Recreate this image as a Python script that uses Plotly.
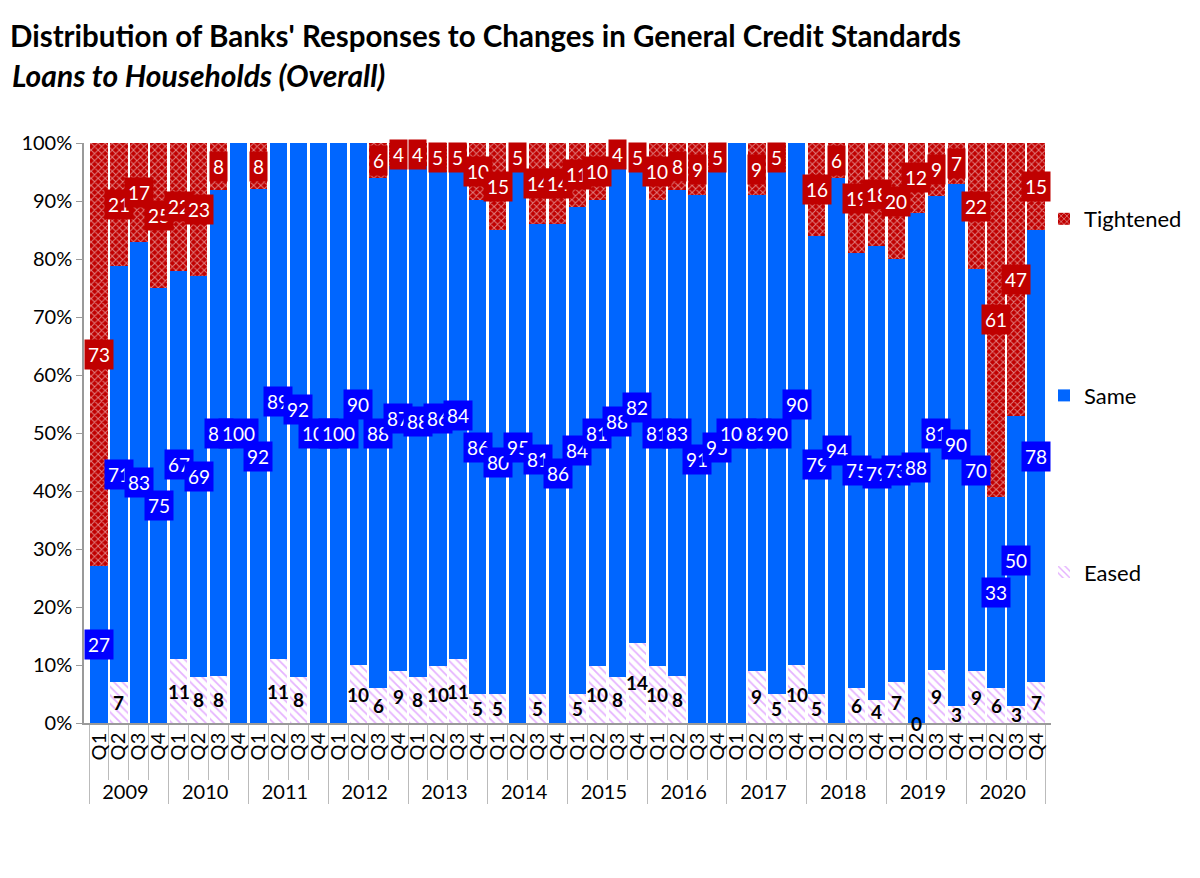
import plotly.graph_objects as go

years = ["2009", "2010", "2011", "2012", "2013", "2014", "2015", "2016",
         "2017", "2018", "2019", "2020"]
quarters = ["Q1", "Q2", "Q3", "Q4"]
y_ticks = list(range(0, 101, 10))
y_tick_labels = [f"{v}%" for v in y_ticks]

# None = no data label shown
eased = [None, 7, None, None,
         11, 8, 8, None,
         None, 11, 8, None,
         None, 10, 6, 9,
         8, 10, 11, 5,
         5, None, 5, None,
         5, 10, 8, 14,
         10, 8, None, None,
         None, 9, 5, 10,
         5, None, 6, 4,
         7, 0, 9, 3,
         9, 6, 3, 7]
same = [27, 71, 83, 75,
        67, 69, 83, 100,
        92, 89, 92, 100,
        100, 90, 88, 87,
        88, 86, 84, 86,
        80, 95, 81, 86,
        84, 81, 88, 82,
        81, 83, 91, 95,
        100, 82, 90, 90,
        79, 94, 75, 79,
        73, 88, 81, 90,
        70, 33, 50, 78]
tightened = [73, 21, 17, 25,
             22, 23, 8, None,
             8, None, None, None,
             None, None, 6, 4,
             4, 5, 5, 10,
             15, 5, 14, 14,
             11, 10, 4, 5,
             10, 8, 9, 5,
             None, 9, 5, None,
             16, 6, 19, 18,
             20, 12, 9, 7,
             22, 61, 47, 15]

FONT = "Lato"
n = len(same)
xy = [[y for y in years for _ in quarters], [q for _ in years for q in quarters]]
ev = [v or 0 for v in eased]
sv = [v or 0 for v in same]
tv = [v or 0 for v in tightened]

fig = go.Figure()
fig.add_trace(go.Bar(
    x=xy, y=ev, name="Eased", legendgroup="e", legendrank=3,
    marker=dict(color="white", line=dict(width=0),
                pattern=dict(shape="\\", fgcolor="#CC66FF", bgcolor="white",
                             size=6, solidity=0.3)),
))
fig.add_trace(go.Bar(
    x=xy, y=sv, name="Same", legendgroup="s", legendrank=2,
    marker=dict(color="#0066FF", line=dict(width=0)),
))
fig.add_trace(go.Bar(
    x=xy, y=tv, name="Tightened", legendgroup="t", legendrank=1,
    marker=dict(color="#C00000", line=dict(width=0),
                pattern=dict(shape="x", fgcolor="white", bgcolor="#C00000",
                             size=5, solidity=0.35)),
))

annotations = []
for i in range(n):
    tot = ev[i] + sv[i] + tv[i]
    e_mid = ev[i] / 2 / tot * 100
    s_mid = (ev[i] + sv[i] / 2) / tot * 100
    t_mid = (ev[i] + sv[i] + tv[i] / 2) / tot * 100
    if eased[i] is not None:
        annotations.append(dict(x=i, y=e_mid, xref="x", yref="y", text=f"<b>{eased[i]}</b>",
                                showarrow=False, font=dict(family=FONT, size=19, color="black")))
    annotations.append(dict(x=i, y=s_mid, xref="x", yref="y", text=str(same[i]),
                            showarrow=False, bgcolor="#0000FF", borderpad=3,
                            font=dict(family=FONT, size=19, color="white")))
    if tightened[i] is not None:
        annotations.append(dict(x=i, y=t_mid, xref="x", yref="y", text=str(tightened[i]),
                                showarrow=False, bgcolor="#C00000", borderpad=3,
                                font=dict(family=FONT, size=19, color="white")))

# page body has an 8px margin; figure coordinates are page coordinates minus 8
OFF = 8
W, H = 1184, 862
ml, mt = 84 - OFF, 143 - OFF
mr = W - (1051 - OFF)
mb = H - (723 - OFF)
pw, ph = W - ml - mr, H - mt - mb


def px_x(x):
    return (x - OFF - ml) / pw


def px_y(y):
    return (H - mb - (y - OFF)) / ph


annotations.append(dict(x=px_x(10), y=px_y(75), xref="paper", yref="paper",
                        xanchor="left", yanchor="middle",
                        text="<b><i>Loans to Households (Overall)</i></b>", showarrow=False,
                        font=dict(family=FONT, size=30, color="black")))

fig.update_layout(
    width=W, height=H,
    margin=dict(l=ml, r=mr, t=mt, b=mb, autoexpand=False),
    barmode="stack", barnorm="percent", bargap=0.13,
    plot_bgcolor="white", paper_bgcolor="white",
    font=dict(family=FONT, size=18, color="black"),
    title=dict(text="<b>Distribution of Banks' Responses to Changes in General Credit Standards</b>",
               x=(10 - OFF) / W, xanchor="left", xref="container",
               y=1 - (37 - OFF) / H, yanchor="middle",
               yref="container", font=dict(family=FONT, size=29.5, color="black")),
    yaxis=dict(range=[0, 100], tickmode="array", tickvals=y_ticks, ticktext=y_tick_labels,
               showgrid=False, showline=True, linecolor="#9A9A9A", linewidth=1.5,
               ticks="outside", ticklen=6, tickcolor="#9A9A9A", zeroline=False,
               tickfont=dict(family=FONT, size=20)),
    xaxis=dict(type="multicategory", showgrid=False, showline=True, linecolor="#9A9A9A",
               linewidth=1.5, ticks="outside", tickson="boundaries", ticklen=55,
               tickcolor="#BBBBBB", showdividers=True, dividercolor="#BBBBBB", dividerwidth=1,
               tickangle=-90, dtick=1, tickfont=dict(family=FONT, size=20)),
    legend=dict(x=px_x(1044), y=px_y(198), xanchor="left", yanchor="top",
                traceorder="grouped", tracegroupgap=145,
                font=dict(family=FONT, size=22), itemwidth=30,
                bgcolor="rgba(0,0,0,0)"),
    annotations=annotations,
)

fig.write_html("out.html")
